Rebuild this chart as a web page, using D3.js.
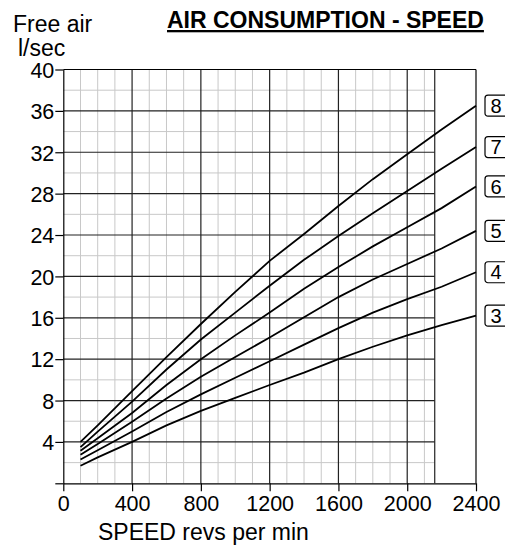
<!DOCTYPE html>
<html>
<head>
<meta charset="utf-8">
<script src="https://cdn.jsdelivr.net/npm/d3@7"></script>
<style>
  body { margin: 0; background: #fff; }
  svg { font-family: "Liberation Sans", Arial, sans-serif; }
</style>
</head>
<body>
<div id="chart"></div>
<script>
// speeds (revs per min)
var speeds = [100, 200, 400, 600, 800, 1000, 1200, 1400, 1600, 1800, 2000, 2200, 2400];
// free air l/sec for each curve
var curve3 = [1.7, 2.5, 4.0, 5.6, 7.0, 8.25, 9.5, 10.7, 12.0, 13.2, 14.3, 15.3, 16.2];
var curve4 = [2.3, 3.2, 5.0, 6.9, 8.6, 10.2, 11.8, 13.4, 15.0, 16.5, 17.8, 19.0, 20.4];
var curve5 = [2.75, 3.8, 5.95, 8.2, 10.3, 12.2, 14.1, 16.05, 18.0, 19.7, 21.2, 22.7, 24.4];
var curve6 = [3.15, 4.35, 6.8, 9.5, 12.0, 14.3, 16.5, 18.8, 20.9, 22.9, 24.75, 26.6, 28.7];
var curve7 = [3.5, 5.0, 7.9, 11.0, 13.9, 16.5, 19.1, 21.6, 23.9, 26.1, 28.25, 30.4, 32.5];
var curve8 = [4.0, 5.6, 8.9, 12.2, 15.4, 18.5, 21.5, 24.1, 26.8, 29.4, 31.8, 34.2, 36.5];
var curveNames = ["3", "4", "5", "6", "7", "8"];
var xTicks = [0, 400, 800, 1200, 1600, 2000, 2400];
var yTicks = [0, 4, 8, 12, 16, 20, 24, 28, 32, 36, 40];

var curves = [curve3, curve4, curve5, curve6, curve7, curve8];

var width = 505, height = 547;
var pad = {left: 63.3, right: 476, top: 69.5, bottom: 483.3};
var gridEnd = 2160; // grid paper stops here

var svg = d3.select("#chart").append("svg")
    .attr("width", width).attr("height", height);

var x = d3.scaleLinear().domain([0, 2400]).range([pad.left, pad.right]);
var y = d3.scaleLinear().domain([0, 40]).range([pad.bottom, pad.top]);

// minor grid
var minorX = d3.range(100, gridEnd, 100).filter(function(d) { return d % 400 != 0; });
var minorY = d3.range(2, 40, 4);
svg.append("g").selectAll("line").data(minorX).enter().append("line")
    .attr("x1", function(d) { return x(d); }).attr("x2", function(d) { return x(d); })
    .attr("y1", y(40)).attr("y2", y(0))
    .attr("stroke", "#c8c8c8").attr("stroke-width", 1);
svg.append("g").selectAll("line").data(minorY).enter().append("line")
    .attr("x1", x(0)).attr("x2", x(gridEnd))
    .attr("y1", function(d) { return y(d); }).attr("y2", function(d) { return y(d); })
    .attr("stroke", "#c8c8c8").attr("stroke-width", 1);

// major grid
svg.append("g").selectAll("line").data(yTicks.slice(1, -1)).enter().append("line")
    .attr("x1", x(0)).attr("x2", x(gridEnd))
    .attr("y1", function(d) { return y(d); }).attr("y2", function(d) { return y(d); })
    .attr("stroke", "#222").attr("stroke-width", 1.2);
svg.append("g").selectAll("line").data(xTicks.slice(1, -1).concat([gridEnd])).enter().append("line")
    .attr("x1", function(d) { return x(d); }).attr("x2", function(d) { return x(d); })
    .attr("y1", y(40)).attr("y2", y(0))
    .attr("stroke", "#222").attr("stroke-width", 1.2);

// frame top and right
svg.append("line").attr("x1", x(0)).attr("x2", x(2400)).attr("y1", y(40)).attr("y2", y(40))
    .attr("stroke", "#000").attr("stroke-width", 1.2);
svg.append("line").attr("x1", x(2400)).attr("x2", x(2400)).attr("y1", y(40)).attr("y2", y(0))
    .attr("stroke", "#000").attr("stroke-width", 1.2);

// axes
var xaxis = d3.axisBottom(x).tickValues(xTicks).tickSize(8).tickPadding(4).tickSizeOuter(0)
    .tickFormat(d3.format("d"));
var gx = svg.append("g")
    .attr("transform", "translate(0," + pad.bottom + ")")
    .call(xaxis);
var yaxis = d3.axisLeft(y).tickValues(yTicks).tickSize(8).tickPadding(1).tickSizeOuter(0)
    .tickFormat(function(d) { return d == 0 ? "" : d; });
var gy = svg.append("g")
    .attr("transform", "translate(" + pad.left + ",0)")
    .call(yaxis);
[gx, gy].forEach(function(g) {
    g.selectAll("path").attr("stroke", "#000").attr("stroke-width", 1.2);
    g.selectAll("line").attr("stroke", "#000").attr("stroke-width", 1.2);
    g.selectAll("text").attr("fill", "#000")
        .style("font-size", "21.5px").style("font-family", "Liberation Sans, Arial, sans-serif");
});
gy.selectAll("text").attr("dy", "0.36em");

// curves
var line = d3.line()
    .x(function(d, i) { return x(speeds[i]); })
    .y(function(d) { return y(d); });
svg.append("g").selectAll("path").data(curves).enter().append("path")
    .attr("d", line)
    .attr("fill", "none").attr("stroke", "#000").attr("stroke-width", 1.8);

// curve labels in boxes
var labels = svg.append("g").selectAll("g").data(curves).enter().append("g")
    .attr("transform", function(d) { return "translate(485," + y(d[d.length - 1]) + ")"; });
labels.append("rect")
    .attr("x", 0).attr("y", -10.5).attr("width", 30).attr("height", 21).attr("rx", 3)
    .attr("fill", "#fff").attr("stroke", "#000").attr("stroke-width", 1.2);
labels.append("text")
    .text(function(d, i) { return curveNames[i]; })
    .attr("x", 5.5).attr("dy", "0.36em")
    .style("font-size", "20px");

// titles
svg.append("text").text("Free air")
    .attr("x", 13).attr("y", 32).style("font-size", "23px");
svg.append("text").text("l/sec")
    .attr("x", 18).attr("y", 56).style("font-size", "23px");
svg.append("text").text("AIR CONSUMPTION - SPEED")
    .attr("x", 167).attr("y", 28)
    .style("font-size", "23px").style("font-weight", "bold")
    .style("text-decoration", "underline");
svg.append("text").text("SPEED revs per min")
    .attr("x", 98).attr("y", 540).style("font-size", "23px");
</script>
</body>
</html>
